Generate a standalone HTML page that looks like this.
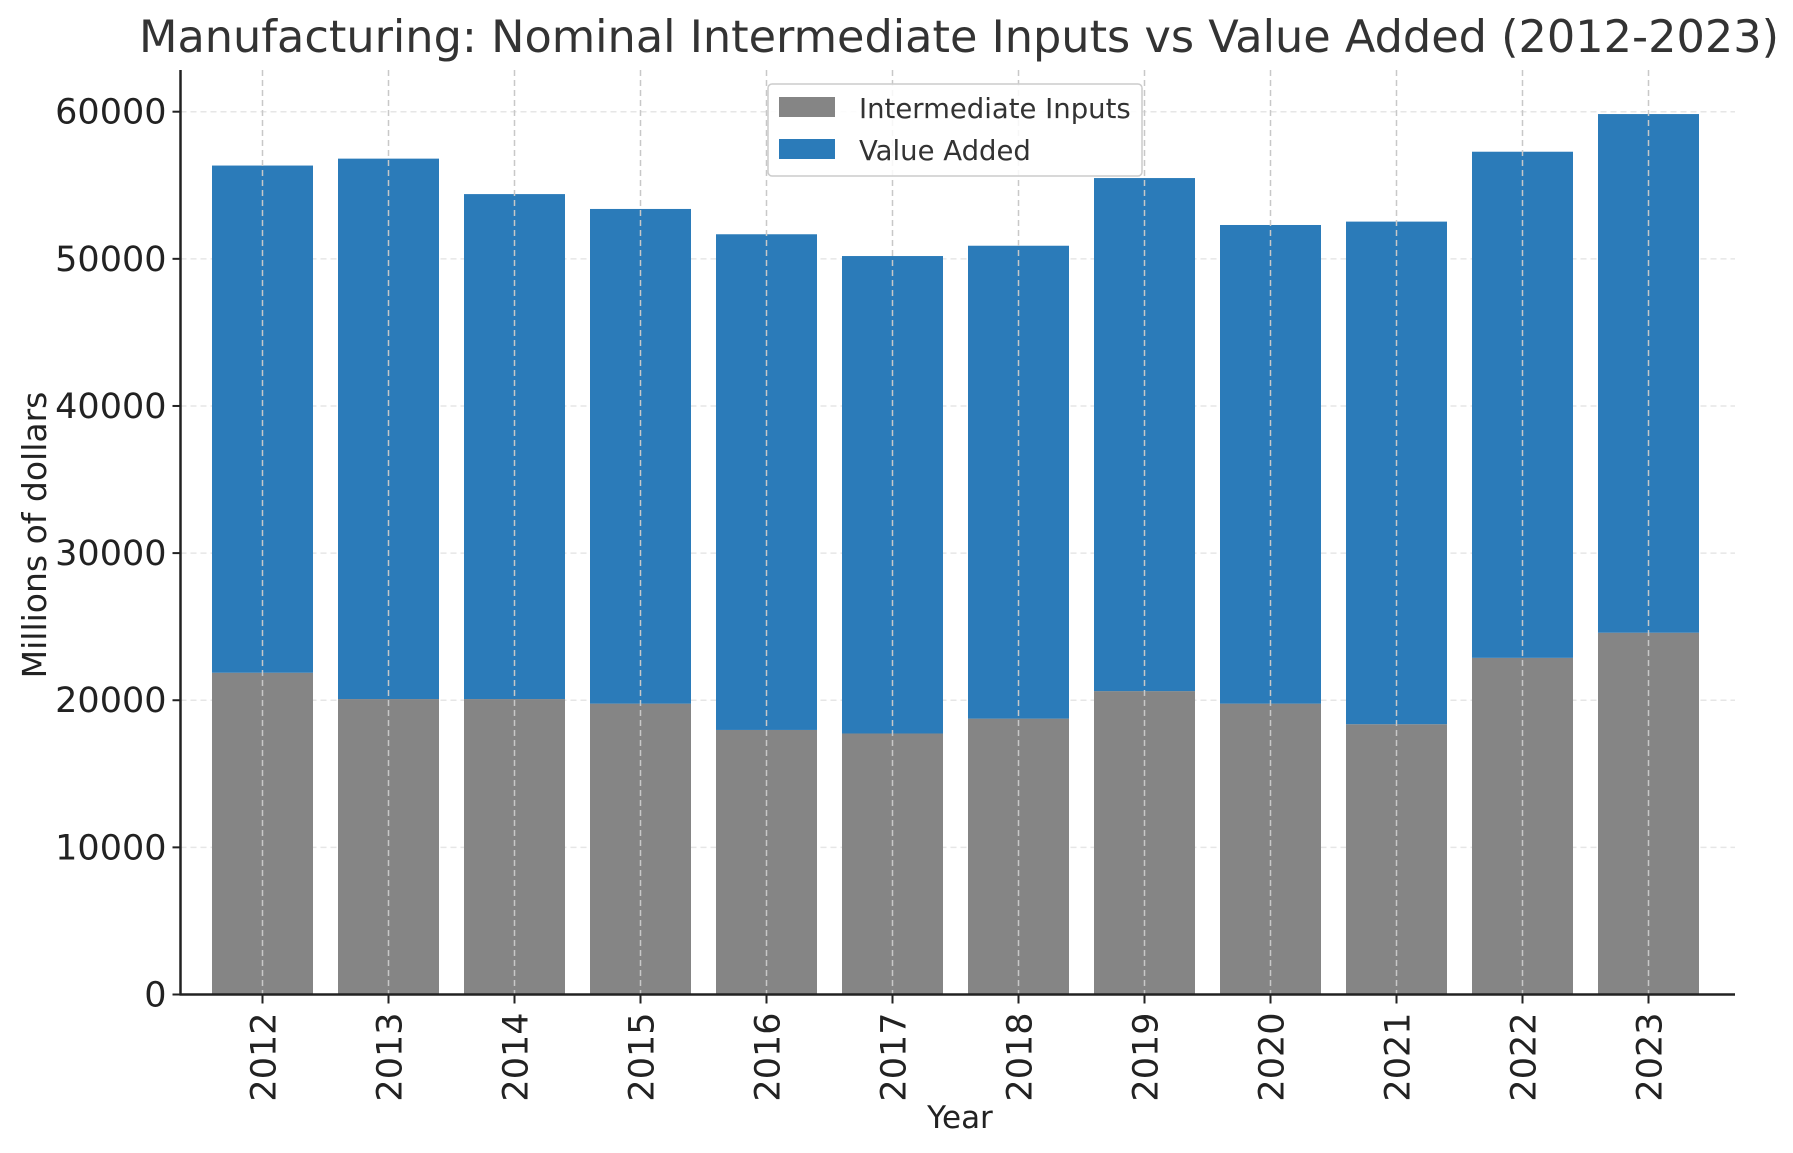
<!DOCTYPE html>
<html><head><meta charset="utf-8"><style>
html,body{margin:0;padding:0;background:#fff;}
svg{display:block;font-family:"DejaVu Sans","Liberation Sans",sans-serif;}
</style></head><body>
<svg id="chart" width="1793" height="1153" viewBox="0 0 1793 1153">
<text x="959" y="52" font-size="44.6" text-anchor="middle" fill="#333">Manufacturing: Nominal Intermediate Inputs vs Value Added (2012-2023)</text>
<g id="grid"></g>
<g id="bars"></g>
<g id="axes"></g>
<text x="960" y="1128" font-size="31" text-anchor="middle" fill="#222">Year</text>
<text transform="translate(46,535) rotate(-90)" font-size="33" text-anchor="middle" fill="#222">Millions of dollars</text>
<g>
<rect x="768" y="84" width="374" height="92" rx="4" fill="#fff" fill-opacity="0.85" stroke="#ccc" stroke-width="1.5"/>
<rect x="779" y="97" width="56" height="20" fill="#858585"/>
<text x="859" y="118" font-size="27.5" fill="#333">Intermediate Inputs</text>
<rect x="779" y="139" width="56" height="20" fill="#2b7bb9"/>
<text x="859" y="160" font-size="27.5" fill="#333">Value Added</text>
</g>
</svg>
<script>
const years = ["2012","2013","2014","2015","2016","2017","2018","2019","2020","2021","2022","2023"];
const intermediateInputs = [21870,20080,20080,19770,17980,17740,18750,20620,19770,18370,22880,24590];
const valueAdded = [34470,36730,34320,33620,33690,32450,32140,34870,32530,34160,34400,35250];
const yTicks = [0,10000,20000,30000,40000,50000,60000];

const NS="http://www.w3.org/2000/svg";
const plotLeft=180.5,plotRight=1735,plotTop=70,plotBottom=994.5;
const y0=994.5,perUnit=(994.5-111.7)/60000;
function yScale(v){return y0-v*perUnit;}
function xScale(i){return 262.5+i*126.0;}
const bw=101;
function mk(tag,attrs,parent){const e=document.createElementNS(NS,tag);for(const k in attrs)e.setAttribute(k,attrs[k]);parent.appendChild(e);return e;}
const grid=document.getElementById('grid'),bars=document.getElementById('bars'),axes=document.getElementById('axes');
yTicks.forEach(t=>{
  const y=yScale(t);
  if(t>0){const g=mk('line',{x1:plotLeft,x2:plotRight,y1:y,y2:y,stroke:'#e6e6e6','stroke-width':1.5,'stroke-dasharray':'6,4'},grid);
  
  }
  const tk=mk('line',{x1:plotLeft-8,x2:plotLeft,y1:y,y2:y,stroke:'#222','stroke-width':2},axes);
  
  
  const tx=mk('text',{x:plotLeft-14,y:y+12,'font-size':35,'text-anchor':'end',fill:'#222'},axes);
  tx.textContent=t;
  
  
});
years.forEach((yr,i)=>{
  const cx=xScale(i);
  const a=mk('rect',{x:cx-bw/2,y:yScale(intermediateInputs[i]),width:bw,height:y0-yScale(intermediateInputs[i]),fill:'#858585'},bars);
  
  
  const tot=intermediateInputs[i]+valueAdded[i];
  const b=mk('rect',{x:cx-bw/2,y:yScale(tot),width:bw,height:yScale(intermediateInputs[i])-yScale(tot),fill:'#2b7bb9'},bars);
  
  
  const g=mk('line',{x1:cx,x2:cx,y1:plotTop,y2:plotBottom,stroke:'#c8c8c8','stroke-width':1.5,'stroke-dasharray':'6,4'},axes);
  
  
  const tk=mk('line',{x1:cx,x2:cx,y1:plotBottom,y2:plotBottom+9,stroke:'#222','stroke-width':2},axes);
  
  
  const tx=mk('text',{transform:`translate(${cx+13},${plotBottom+18}) rotate(-90)`,'font-size':35,'text-anchor':'end',fill:'#222'},axes);
  tx.textContent=yr;
  
  
});
const ya=mk('line',{x1:plotLeft,x2:plotLeft,y1:plotTop,y2:plotBottom+1,stroke:'#222','stroke-width':2.5},axes);


const xa=mk('line',{x1:plotLeft-1,x2:plotRight,y1:plotBottom,y2:plotBottom,stroke:'#222','stroke-width':2.5},axes);


</script>
</body></html>
